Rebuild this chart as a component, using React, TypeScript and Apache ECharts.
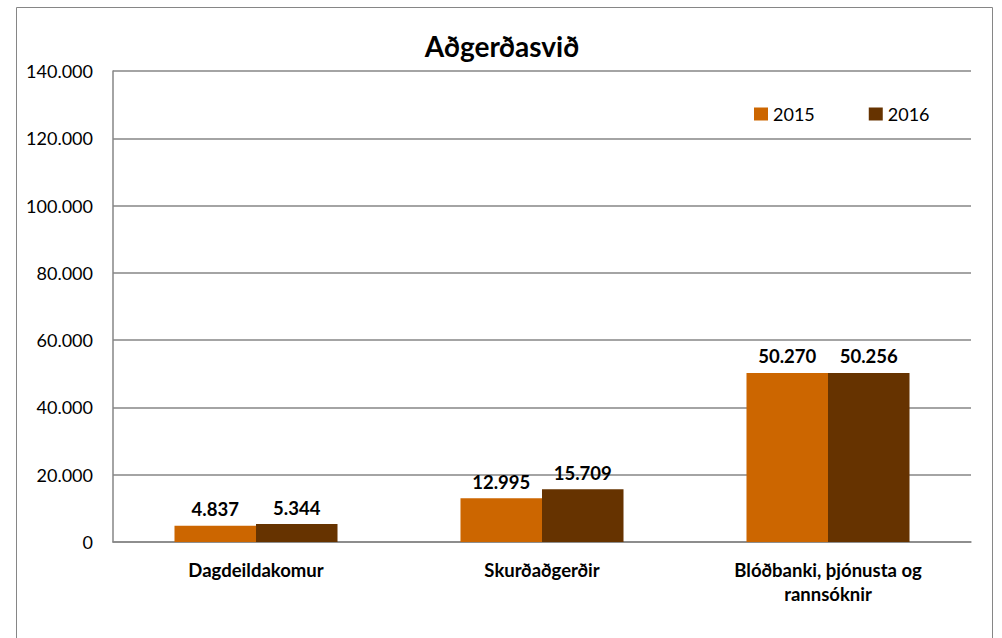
import React, { useEffect, useRef } from "react";
import * as echarts from "echarts";

const categories = ["Dagdeildakomur", "Skurðaðgerðir", "Blóðbanki, þjónusta og\nrannsóknir"];
const seriesNames = ["2015", "2016"];
const values2015 = [4837, 12995, 50270];
const values2016 = [5344, 15709, 50256];
const colors = ["#CC6600", "#663300"];

const fmt = (v: number) => {
  const s = Math.round(v).toString();
  return s.replace(/\B(?=(\d{3})+(?!\d))/g, ".");
};

export default function App() {
  const ref = useRef<HTMLDivElement>(null);
  useEffect(() => {
    if (!ref.current) return;
    const chart = echarts.init(ref.current, undefined, { renderer: "svg" });
    const font = "Lato, 'Open Sans', sans-serif";
    const mkSeries = (name: string, data: number[], color: string) => ({
      name,
      type: "bar",
      data,
      barGap: "0%",
      barCategoryGap: "43%",
      itemStyle: { color },
      label: {
        show: true,
        position: "top",
        distance: 7,
        formatter: (p: any) => fmt(p.value),
        fontFamily: font,
        fontWeight: "bold",
        fontSize: 18.5,
        color: "#000",
      },
    });
    chart.setOption({
      animation: false,
      backgroundColor: "#fff",
      textStyle: { fontFamily: font },
      title: {
        text: "Aðgerðasvið",
        left: 497,
        top: 27,
        textAlign: "center",
        textStyle: { fontFamily: font, fontWeight: "bold", fontSize: 28, color: "#000" },
      },
      legend: {
        data: seriesNames,
        left: 749,
        top: 100,
        itemWidth: 14,
        itemHeight: 13,
        itemGap: 54,
        icon: "rect",
        textStyle: { fontFamily: font, fontSize: 18, color: "#000" },
      },
      graphic: [
        {
          type: "rect",
          shape: { x: 16.5, y: 7.5, width: 976, height: 650 },
          style: { fill: "none", stroke: "#868686", lineWidth: 1 },
          silent: true,
        },
      ],
      grid: { left: 113, right: 31, top: 71, bottom: 96 },
      xAxis: {
        type: "category",
        data: categories,
        axisLine: { show: true, lineStyle: { color: "#868686", width: 1.5 } },
        axisTick: { show: false },
        axisLabel: {
          fontFamily: font,
          fontWeight: "bold",
          fontSize: 18.5,
          color: "#000",
          margin: 16,
          lineHeight: 24,
          interval: 0,
        },
      },
      yAxis: {
        type: "value",
        min: 0,
        max: 140000,
        interval: 20000,
        axisLine: { show: true, lineStyle: { color: "#868686", width: 1.5 } },
        axisTick: { show: false },
        splitLine: { lineStyle: { color: "#868686", width: 1.5 } },
        axisLabel: {
          formatter: (v: number) => fmt(v),
          fontFamily: font,
          fontSize: 18,
          color: "#000",
          margin: 20,
        },
      },
      series: [
        mkSeries(seriesNames[0], values2015, colors[0]),
        mkSeries(seriesNames[1], values2016, colors[1]),
      ],
    });
    return () => chart.dispose();
  }, []);
  return (
    <div
      ref={ref}
      style={{ position: "fixed", left: 0, top: 0, width: 1002, height: 638 }}
    />
  );
}
